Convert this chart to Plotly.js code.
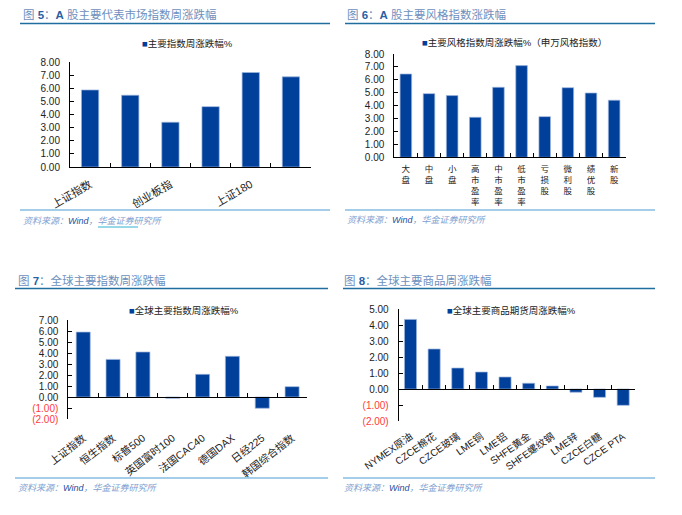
<!DOCTYPE html>
<html><head><meta charset="utf-8">
<script src="https://cdn.plot.ly/plotly-3.0.1.min.js"></script>
<style>html,body{margin:0;padding:0;background:#fff}</style>
</head><body>
<div id="chart" style="width:682px;height:515px"></div>
<script>
// ---------- DATA ----------
const cats1 = ['上证指数','深证成指','创业板指','中小板指','上证180','沪深300'];
const labels1 = ['上证指数','','创业板指','','上证180',''];
const vals1 = [5.87, 5.47, 3.41, 4.60, 7.20, 6.87];
const legend1 = '主要指数周涨跌幅%';
const title1 = ['5','A','股主要代表市场指数周涨跌幅'];

const cats2 = ['大盘','中盘','小盘','高市盈率','中市盈率','低市盈率','亏损股','微利股','绩优股','新股'];
const vals2 = [6.45, 4.93, 4.78, 3.10, 5.42, 7.10, 3.15, 5.39, 4.98, 4.42];
const legend2 = '主要风格指数周涨跌幅%（申万风格指数）';
const title2 = ['6','A','股主要风格指数涨跌幅'];

const cats3 = ['上证指数','恒生指数','标普500','英国富时100','法国CAC40','德国DAX','日经225','韩国综合指数'];
const vals3 = [5.90, 3.42, 4.09, -0.12, 2.06, 3.70, -1.02, 0.94];
const legend3 = '全球主要指数周涨跌幅%';
const title3 = ['7','','全球主要指数周涨跌幅'];

const cats4 = ['NYMEX原油','CZCE棉花','CZCE玻璃','LME铜','LME铝','SHFE黄金','SHFE螺纹钢','LME锌','CZCE白糖','CZCE PTA'];
const vals4 = [4.35, 2.50, 1.31, 1.06, 0.75, 0.36, 0.19, -0.20, -0.52, -1.02];
const legend4 = '全球主要商品期货周涨跌幅%';
const title4 = ['8','','全球主要商品周涨跌幅'];

const yRange1 = [0, 8], yRange2 = [0, 8], yRange3 = [-2, 7], yRange4 = [-2, 5];
const sourceText = ['资料来源：','Wind','，华金证券研究所'];

// ---------- STYLE ----------
const W = 682, H = 515;
const FONT = 'Liberation Sans, Arial, Noto Sans CJK SC, sans-serif';
const BAR = '#003f9a';
const px = x => x / W;
const py = y => 1 - y / H;

function yTicks(r) {
  const v = [], t = [];
  for (let i = r[0]; i <= r[1]; i++) {
    v.push(i);
    t.push(i < 0 ? '<span style="color:#ff3b3b">(' + Math.abs(i).toFixed(2) + ')</span>' : i.toFixed(2));
  }
  return {tickvals: v, ticktext: t};
}

function bar(cats, vals, xa, ya, w) {
  return {type: 'bar', x: cats, y: vals, xaxis: xa, yaxis: ya, width: w,
    marker: {color: BAR, line: {color: '#9db6dc', width: 0.7}},
    showlegend: false, hoverinfo: 'x+y'};
}

const data = [
  bar(cats1, vals1, 'x', 'y', 0.43),
  bar(cats2, vals2, 'x2', 'y2', 0.5),
  bar(cats3, vals3, 'x3', 'y3', 0.47),
  bar(cats4, vals4, 'x4', 'y4', 0.51)
];

// plot boxes (pixels): [left, right, top, bottom]
const box1 = [70, 311, 62, 167];
const box2 = [394.3, 625.7, 54, 157.3];
const box3 = [68.3, 307, 320, 419];
const box4 = [398.7, 635, 309, 421];

function yAxis(box, r, anchor) {
  return Object.assign({
    domain: [py(box[3]), py(box[2])], range: r, anchor: anchor,
    showline: true, linecolor: '#000', linewidth: 1,
    ticks: 'inside', ticklen: 4, tickcolor: '#000',
    showgrid: false, zeroline: false, tickmode: 'array',
    ticklabelstandoff: 7,
    tickfont: {family: FONT, size: 10, color: '#222'}
  }, yTicks(r));
}

function xAxis(box, cats, anchor, extra) {
  return Object.assign({
    domain: [px(box[0]), px(box[1])], type: 'category', anchor: anchor,
    categoryarray: cats, categoryorder: 'array',
    range: [-0.5, cats.length - 0.5],
    showline: true, linecolor: '#000', linewidth: 1,
    ticks: 'inside', ticklen: 4, tickcolor: '#000', tickson: 'boundaries',
    showgrid: false, zeroline: false,
    tickfont: {family: FONT, size: 10.5, color: '#222'}
  }, extra);
}

function zeroPos(box, r) {
  const b = py(box[3]), t = py(box[2]);
  return b + (t - b) * (0 - r[0]) / (r[1] - r[0]);
}

const layout = {
  width: W, height: H, margin: {l: 0, r: 0, t: 0, b: 0},
  paper_bgcolor: '#fff', plot_bgcolor: 'rgba(0,0,0,0)',
  font: {family: FONT},
  xaxis: xAxis(box1, cats1, 'y', {tickmode: 'array', tickvals: cats1, ticktext: labels1, tickangle: -30, ticklabelstandoff: 6, tickfont: {family: FONT, size: 11, color: '#222'}}),
  yaxis: yAxis(box1, yRange1, 'x'),
  xaxis2: xAxis(box2, cats2, 'y2', {tickmode: 'array', tickvals: cats2, ticktext: cats2.map(c => c.split('').join('<br>')), tickangle: 0, ticklabelstandoff: 3, tickfont: {family: FONT, size: 8.5, color: '#222'}}),
  yaxis2: yAxis(box2, yRange2, 'x2'),
  xaxis3: xAxis(box3, cats3, 'free', {position: zeroPos(box3, yRange3), tickangle: -38, ticklabelstandoff: 30}),
  yaxis3: yAxis(box3, yRange3, 'x3'),
  xaxis4: xAxis(box4, cats4, 'free', {position: zeroPos(box4, yRange4), tickangle: -35, ticklabelstandoff: 37, tickfont: {family: FONT, size: 10, color: '#222'}}),
  yaxis4: yAxis(box4, yRange4, 'x4'),
  shapes: [], annotations: []
};

function titleText(t) {
  return '图 <span style="color:#2a5fa5"><b>' + t[0] + '</b></span>：' +
    (t[1] ? '<span style="color:#2a5fa5"><b>' + t[1] + '</b></span> ' : '') + t[2];
}
function srcText() {
  return '<i>' + sourceText[0] + '<span style="color:#1f4fa0">' + sourceText[1] + '</span>' + sourceText[2] + '</i>';
}
function legendText(t) {
  return '<span style="color:' + BAR + '">■</span>' + t;
}

const panels = [
  {title: title1, tx: 21, ty: 14, l0: 20, l1: 330, ly: 23.5, by: 210, sx: 21, sy: 221, lgx: 140, lgy: 44, lg: legend1},
  {title: title2, tx: 345, ty: 15, l0: 345, l1: 655, ly: 23.5, by: 210, sx: 345, sy: 220, lgx: 420, lgy: 42, lg: legend2},
  {title: title3, tx: 16, ty: 280, l0: 15, l1: 328, ly: 288.5, by: 478, sx: 16, sy: 488, lgx: 127, lgy: 310, lg: legend3},
  {title: title4, tx: 342, ty: 280, l0: 343, l1: 655, ly: 288.5, by: 478, sx: 342, sy: 488, lgx: 445, lgy: 310, lg: legend4}
];

panels.forEach(p => {
  layout.shapes.push({type: 'line', xref: 'paper', yref: 'paper', x0: px(p.l0), x1: px(p.l1), y0: py(p.ly), y1: py(p.ly), line: {color: '#1f6e9e', width: 1.5}});
  layout.shapes.push({type: 'line', xref: 'paper', yref: 'paper', x0: px(p.l0), x1: px(p.l1), y0: py(p.by), y1: py(p.by), line: {color: '#86bde2', width: 1.5}});
  layout.annotations.push({xref: 'paper', yref: 'paper', x: px(p.tx), y: py(p.ty), xanchor: 'left', yanchor: 'middle', showarrow: false,
    text: titleText(p.title), font: {family: FONT, size: 11.5, color: '#6d8fbd'}});
  layout.annotations.push({xref: 'paper', yref: 'paper', x: px(p.sx), y: py(p.sy), xanchor: 'left', yanchor: 'middle', showarrow: false,
    text: srcText(), font: {family: FONT, size: 9, color: '#7ea0d0'}});
  layout.annotations.push({xref: 'paper', yref: 'paper', x: px(p.lgx), y: py(p.lgy), xanchor: 'left', yanchor: 'middle', showarrow: false,
    text: legendText(p.lg), font: {family: FONT, size: 9.5, color: '#222'}});
});
// link underline in first panel source
layout.shapes.push({type: 'line', xref: 'paper', yref: 'paper', x0: px(98), x1: px(138), y0: py(227), y1: py(227), line: {color: '#2fb0d2', width: 1}});

Plotly.newPlot('chart', data, layout, {displayModeBar: false, staticPlot: true});
</script>
</body></html>
